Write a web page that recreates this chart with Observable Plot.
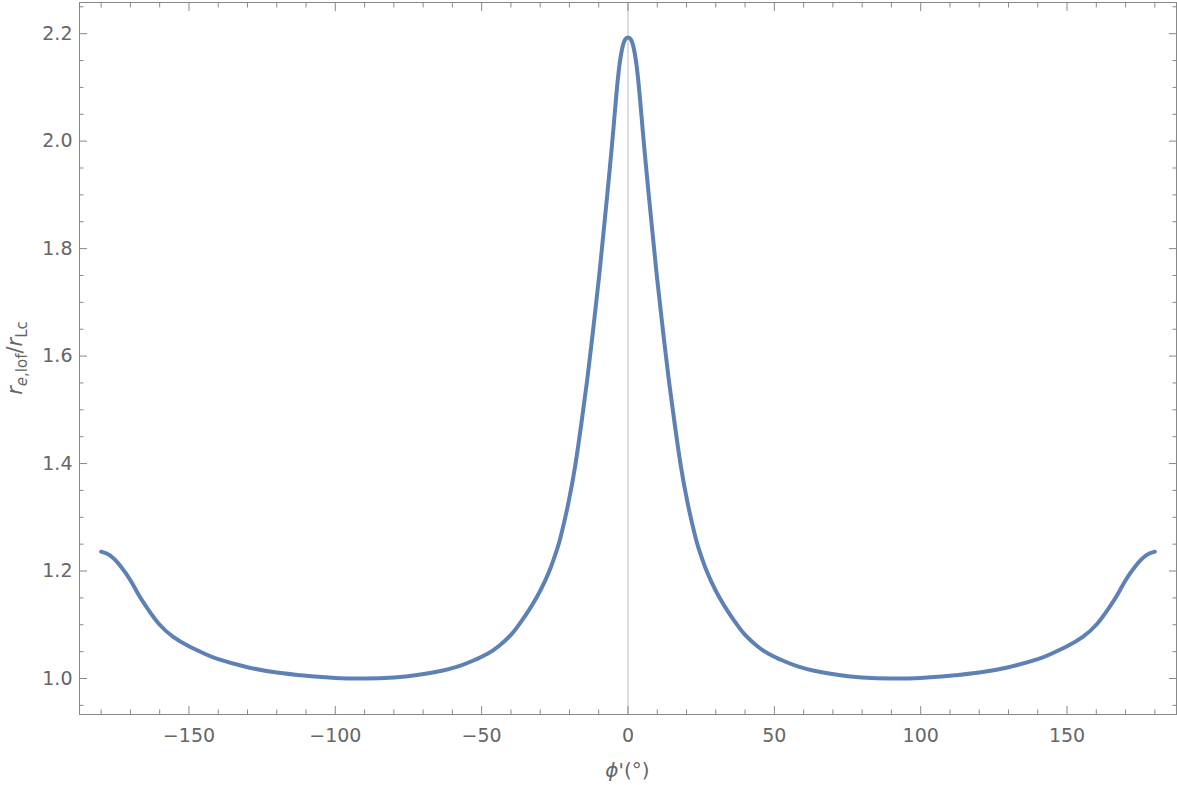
<!DOCTYPE html>
<html>
<head>
<meta charset="utf-8">
<script src="https://cdn.jsdelivr.net/npm/d3@7"></script>
<script src="https://cdn.jsdelivr.net/npm/@observablehq/plot@0.6"></script>
<style>
  html, body { margin: 0; padding: 0; background: #fff; }
  #chart svg { display: block; }
</style>
</head>
<body>
<div id="chart"></div>
<script>
// φ' in degrees
const phi = [
  -180, -177, -173.5, -170, -167, -163.5, -160, -155.5, -150, -145, -140, -130, -120, -110, -100, -90,
  -80, -72, -64, -58, -53, -48, -44, -40, -37, -34, -31, -28.5, -26.5, -24.5, -23, -20.5, -18, -16,
  -14, -12, -10, -8, -7, -6, -5, -4, -3, -2, -1, 0,
  1, 2, 3, 4, 5, 6, 7, 8, 10, 12, 14,
  16, 18, 20.5, 23, 24.5, 26.5, 28.5, 31, 34, 37, 40, 44, 48, 53, 58, 64, 72, 80,
  90, 100, 110, 120, 130, 140, 145, 150, 155.5, 160, 163.5, 167, 170, 173.5, 177, 180
];
// r_e,lof / r_Lc
const ratio = [
  1.236, 1.229, 1.210, 1.183, 1.154, 1.125, 1.100, 1.078, 1.060, 1.047, 1.036, 1.021, 1.011, 1.005, 1.001, 1.000,
  1.002, 1.0065, 1.014, 1.0225, 1.033, 1.046, 1.061, 1.081, 1.102, 1.126, 1.153, 1.180, 1.205, 1.236, 1.264, 1.323, 1.397, 1.472,
  1.553, 1.645, 1.742, 1.850, 1.905, 1.962, 2.022, 2.085, 2.138, 2.172, 2.189, 2.193,
  2.189, 2.172, 2.138, 2.085, 2.022, 1.962, 1.905, 1.850, 1.742, 1.645, 1.553,
  1.472, 1.397, 1.323, 1.264, 1.236, 1.205, 1.180, 1.153, 1.126, 1.102, 1.081, 1.061, 1.046, 1.033, 1.0225, 1.014, 1.0065, 1.002,
  1.000, 1.001, 1.005, 1.011, 1.021, 1.036, 1.047, 1.060, 1.078, 1.100, 1.125, 1.154, 1.183, 1.210, 1.229, 1.236
];

const xMajor = [-150, -100, -50, 0, 50, 100, 150];
const xMinor = [-180, -170, -160, -140, -130, -120, -110, -90, -80, -70, -60, -40, -30, -20, -10,
                10, 20, 30, 40, 60, 70, 80, 90, 110, 120, 130, 140, 160, 170, 180];
const yMajor = [1.0, 1.2, 1.4, 1.6, 1.8, 2.0, 2.2];
const yMinor = [0.95, 1.05, 1.1, 1.15, 1.25, 1.3, 1.35, 1.45, 1.5, 1.55, 1.65, 1.7, 1.75,
                1.85, 1.9, 1.95, 2.05, 2.1, 2.15, 2.25];

const data = phi.map((p, i) => ({phi: p, r: ratio[i]}));

const axisColor = "#888";
const textColor = "#666";

const chart = Plot.plot({
  width: 1177,
  height: 785,
  marginLeft: 79,
  marginRight: 1,
  marginTop: 2,
  marginBottom: 71,
  style: {fontFamily: "DejaVu Sans, sans-serif", fontSize: "19px", background: "#fff"},
  x: {domain: [-187.4, 187.4], label: null},
  y: {domain: [0.933, 2.258], label: null},
  marks: [
    Plot.ruleX([0], {stroke: "#bbb", strokeWidth: 1}),
    Plot.line(data, {x: "phi", y: "r", stroke: "#5E81B5", strokeWidth: 4, curve: "natural"}),
    Plot.frame({stroke: axisColor}),
    Plot.axisX(xMajor, {anchor: "bottom", tickSize: -8, tickPadding: 22, stroke: axisColor, fill: textColor,
      tickFormat: d => d < 0 ? "\u2212" + Math.abs(d) : String(d), label: null}),
    Plot.axisX(xMinor, {anchor: "bottom", tickSize: -4.5, tickFormat: () => "", stroke: axisColor, label: null}),
    Plot.axisX(xMajor, {anchor: "top", tickSize: -8, tickFormat: () => "", stroke: axisColor, label: null}),
    Plot.axisX(xMinor, {anchor: "top", tickSize: -4.5, tickFormat: () => "", stroke: axisColor, label: null}),
    Plot.axisY(yMajor, {anchor: "left", tickSize: -8, tickPadding: 15, stroke: axisColor, fill: textColor,
      tickFormat: d => d.toFixed(1), label: null}),
    Plot.axisY(yMinor, {anchor: "left", tickSize: -4.5, tickFormat: () => "", stroke: axisColor, label: null}),
    Plot.axisY(yMajor, {anchor: "right", tickSize: -8, tickFormat: () => "", stroke: axisColor, label: null}),
    Plot.axisY(yMinor, {anchor: "right", tickSize: -4.5, tickFormat: () => "", stroke: axisColor, label: null})
  ]
});

document.getElementById("chart").appendChild(chart);

const svg = d3.select(chart);
const xs = chart.scale("x");
const ys = chart.scale("y");

// x axis label: ϕ'(°)
const xl = svg.append("text")
  .attr("x", xs.apply(0))
  .attr("y", 777)
  .attr("text-anchor", "middle")
  .attr("fill", textColor)
  .style("font-family", "DejaVu Sans, sans-serif")
  .style("font-size", "20px");
xl.append("tspan").attr("font-style", "italic").text("\u03D5");
xl.append("tspan").text("'(\u00B0)");

// y axis label: r_{e,lof}/r_{Lc}
const ymid = (ys.apply(0.933) + ys.apply(2.258)) / 2;
const yl = svg.append("text")
  .attr("transform", `translate(22, ${ymid}) rotate(-90)`)
  .attr("text-anchor", "middle")
  .attr("fill", textColor)
  .style("font-family", "DejaVu Sans, sans-serif")
  .style("font-size", "21px");
yl.append("tspan").attr("font-style", "italic").text("r");
yl.append("tspan").attr("font-style", "italic").attr("font-size", "15px").attr("dy", 5).text("e");
yl.append("tspan").attr("font-size", "15px").text(",lof");
yl.append("tspan").attr("dy", -5).text("/");
yl.append("tspan").attr("font-style", "italic").text("r");
yl.append("tspan").attr("font-size", "15px").attr("dy", 5).text("Lc");
</script>
</body>
</html>
